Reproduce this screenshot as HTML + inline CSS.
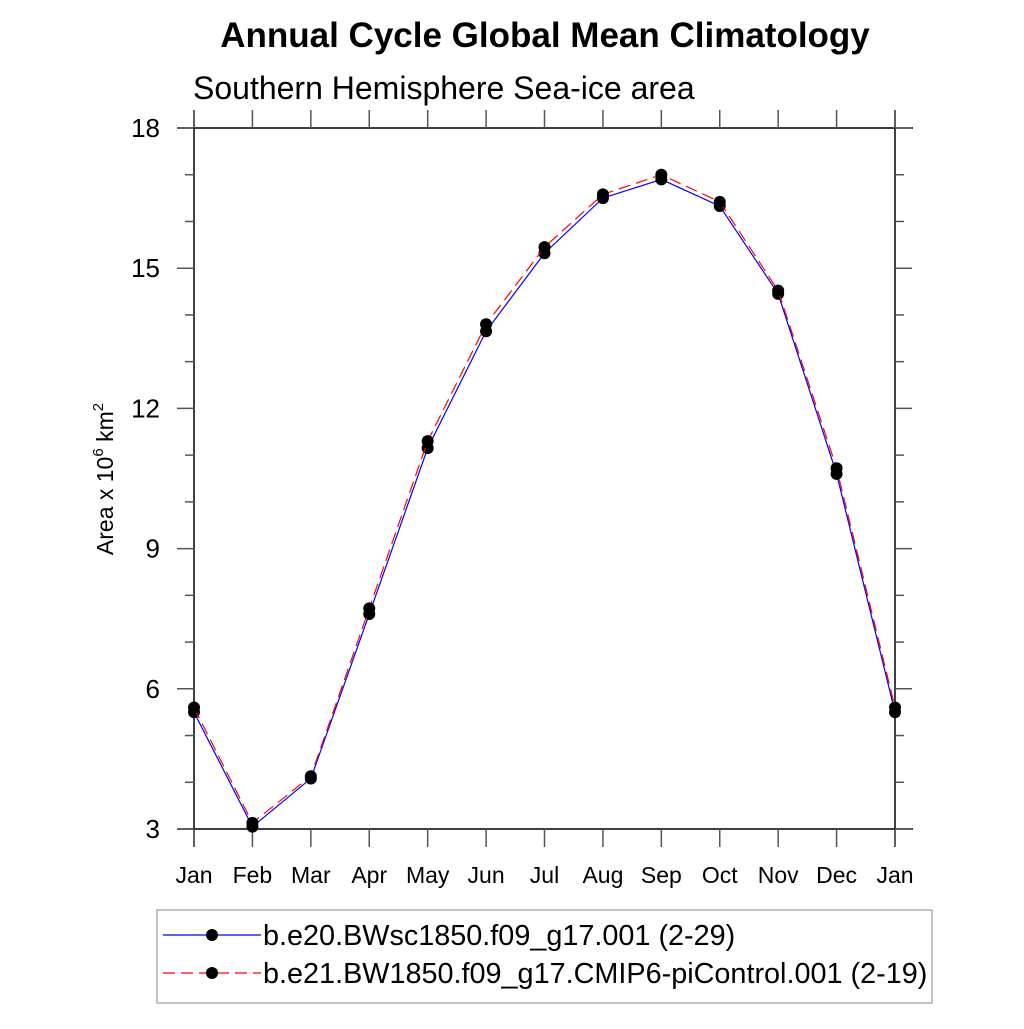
<!DOCTYPE html>
<html><head><meta charset="utf-8"><style>
body{margin:0;background:#fff;font-family:"Liberation Sans",sans-serif}
</style></head><body>
<svg id="chart" width="1024" height="1024" xmlns="http://www.w3.org/2000/svg">
<text x="545" y="47" text-anchor="middle" font-size="35" font-weight="bold">Annual Cycle Global Mean Climatology</text>
<text x="193" y="99" font-size="32">Southern Hemisphere Sea-ice area</text>
<text transform="translate(113,479) rotate(-90)" text-anchor="middle" font-size="23">Area x 10<tspan dy="-10" font-size="15">6</tspan><tspan dy="10"> km</tspan><tspan dy="-10" font-size="15">2</tspan></text>
<g id="axes"></g>
<g id="series"></g>
<g>
<rect x="157" y="910" width="775" height="93" fill="none" stroke="#888" stroke-width="1"/>
<line x1="163" y1="935" x2="261" y2="935" stroke="#00f" stroke-width="1.2"/>
<circle cx="212" cy="935" r="6" fill="#000"/>
<text x="263" y="945" font-size="28.8">b.e20.BWsc1850.f09_g17.001 (2-29)</text>
<line x1="163" y1="973" x2="261" y2="973" stroke="#f00" stroke-width="1.2" stroke-dasharray="12,6"/>
<circle cx="212" cy="973" r="6" fill="#000"/>
<text x="263" y="983" font-size="28.8">b.e21.BW1850.f09_g17.CMIP6-piControl.001 (2-19)</text>
</g>
</svg>
<script>
const months=["Jan","Feb","Mar","Apr","May","Jun","Jul","Aug","Sep","Oct","Nov","Dec","Jan"];
const blueVals=[5.5,3.05,4.08,7.6,11.15,13.65,15.32,16.5,16.9,16.33,14.45,10.6,5.5];
const redVals=[5.6,3.13,4.13,7.72,11.3,13.8,15.45,16.58,17.0,16.42,14.52,10.72,5.6];
const yTicks=[3,6,9,12,15,18];
const NS="http://www.w3.org/2000/svg";
const L=194,R=895,T=128,B=829;
const xs=i=>L+(R-L)*i/(months.length-1);
const ys=v=>B-(v-3)/(18-3)*(B-T);
function mk(tag,attrs,parent){const e=document.createElementNS(NS,tag);for(const k in attrs)e.setAttribute(k,attrs[k]);parent.appendChild(e);return e;}
const ax=document.getElementById('axes');
mk('line',{x1:177,y1:T,x2:913,y2:T,stroke:'#000','stroke-width':1.5},ax);
mk('line',{x1:177,y1:B,x2:913,y2:B,stroke:'#000','stroke-width':1.5},ax);
mk('line',{x1:L,y1:110,x2:L,y2:847,stroke:'#000','stroke-width':1.5},ax);
mk('line',{x1:R,y1:110,x2:R,y2:847,stroke:'#000','stroke-width':1.5},ax);
months.forEach((m,i)=>{
 const x=xs(i);
 mk('line',{x1:x,y1:B,x2:x,y2:847,stroke:'#555','stroke-width':1.5},ax);
 mk('line',{x1:x,y1:T,x2:x,y2:110,stroke:'#555','stroke-width':1.5},ax);
 const t=mk('text',{x:x,y:883,'text-anchor':'middle','font-size':23},ax);
 t.textContent=m;
 
 
});
for(let v=3;v<=18;v++){
 const y=ys(v),maj=yTicks.includes(v),len=maj?17:9;
 mk('line',{x1:L,y1:y,x2:L-len,y2:y,stroke:'#555','stroke-width':1.5},ax);
 mk('line',{x1:R,y1:y,x2:R+len,y2:y,stroke:'#555','stroke-width':1.5},ax);
}
yTicks.forEach(v=>{
 const t=mk('text',{x:160,y:ys(v)+9,'text-anchor':'end','font-size':26},ax);
 t.textContent=v;
 
 
});
const sg=document.getElementById('series');
function series(vals,color,dash,name){
 const p=mk('polyline',{points:vals.map((v,i)=>xs(i)+','+ys(v)).join(' '),fill:'none',stroke:color,'stroke-width':1.2},sg);
 if(dash)p.setAttribute('stroke-dasharray',dash);
 
 
 vals.forEach((v,i)=>{
  const c=mk('circle',{cx:xs(i),cy:ys(v),r:6,fill:'#000'},sg);
  
  
 });
}
series(blueVals,'#00f',null,'bwsc1850');
series(redVals,'#f00','12,6','bw1850');
</script>
</body></html>
